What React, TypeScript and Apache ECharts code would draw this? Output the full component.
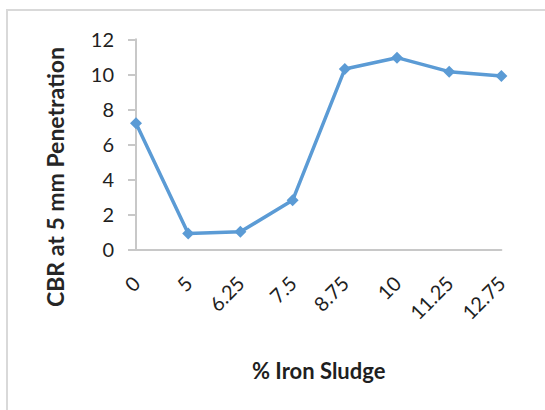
import React, { useEffect, useRef } from "react";
import * as echarts from "echarts";

const categories = ["0", "5", "6.25", "7.5", "8.75", "10", "11.25", "12.75"];
const cbrValues = [7.2, 0.9, 1.0, 2.8, 10.3, 10.95, 10.15, 9.9];
const yTitle = "CBR at 5 mm Penetration";
const xTitle = "% Iron Sludge";

export default function App() {
  const ref = useRef<HTMLDivElement>(null);
  useEffect(() => {
    if (!ref.current) return;
    const chart = echarts.init(ref.current, undefined, { renderer: "svg" });
    chart.setOption({
      animation: false,
      textStyle: { fontFamily: "Lato" },
      graphic: [
        {
          type: "rect",
          shape: { x: 7, y: 10, width: 600, height: 500 },
          style: { fill: "none", stroke: "#d9d9d9", lineWidth: 2 },
          silent: true,
        },
        {
          type: "text",
          x: 55,
          y: 177,
          rotation: Math.PI / 2,
          style: {
            text: yTitle,
            font: "bold 23px Lato",
            fill: "#262626",
            align: "center",
            verticalAlign: "middle",
          },
        },
      ],
      grid: { left: 136, right: 43.6, top: 39.3, bottom: 160.7, containLabel: false },
      xAxis: {
        type: "category",
        data: categories,
        boundaryGap: false,
        axisLine: { lineStyle: { color: "#c8c8c8", width: 2 } },
        axisTick: { show: false },
        axisLabel: {
          rotate: 45,
          margin: 30,
          fontSize: 20,
          color: "#1f1f1f",
          fontFamily: "Lato",
          interval: 0,
        },
        name: xTitle,
        nameLocation: "middle",
        nameGap: 110,
        nameTextStyle: { fontSize: 22, fontWeight: "bold", color: "#1f1f1f", fontFamily: "Lato" },
      },
      yAxis: {
        type: "value",
        min: 0,
        max: 12,
        interval: 2,
        splitLine: { show: false },
        axisLine: { show: true, lineStyle: { color: "#c8c8c8", width: 2 } },
        axisTick: { show: true, length: 8, lineStyle: { color: "#c8c8c8", width: 2 } },
        axisLabel: { margin: 22, fontSize: 20, color: "#1f1f1f", fontFamily: "Lato" },
      },
      series: [
        {
          type: "line",
          data: cbrValues,
          symbol: "diamond",
          symbolSize: 12,
          lineStyle: { color: "#5b9bd5", width: 3.5 },
          itemStyle: { color: "#5b9bd5" },
        },
      ],
    });
    return () => chart.dispose();
  }, []);
  return (
    <div
      ref={ref}
      style={{ position: "fixed", left: 0, top: 0, width: 545, height: 410, background: "#fff" }}
    />
  );
}
